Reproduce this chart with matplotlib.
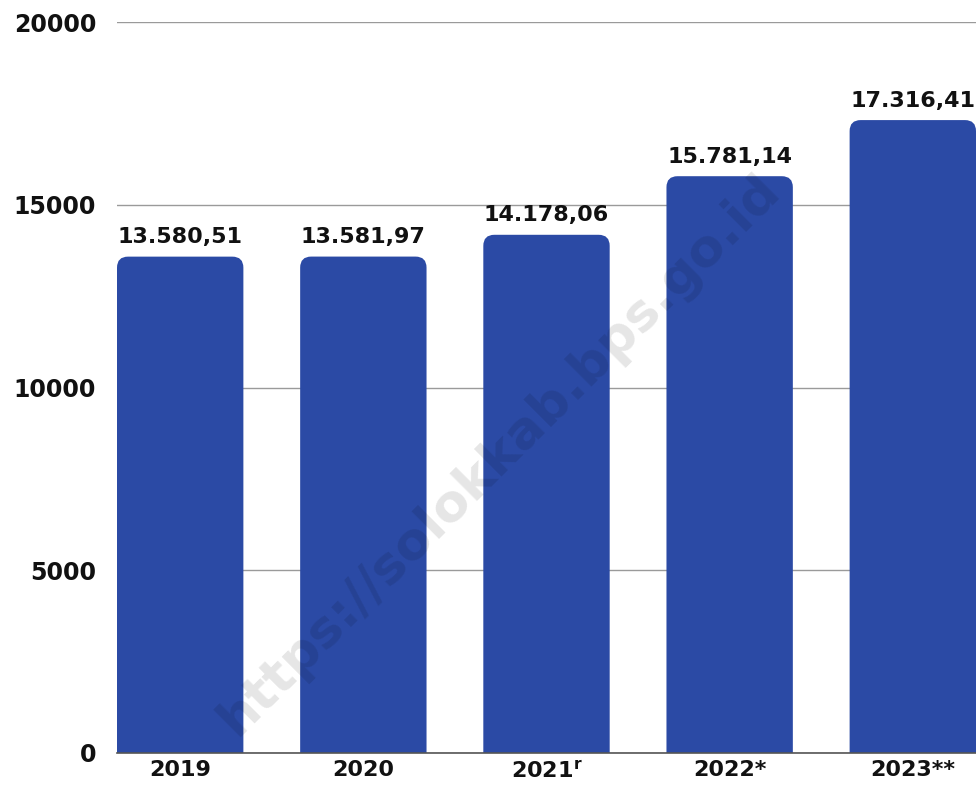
"""Bar chart of yearly values (2019-2023) with rounded bar tops and a watermark."""

import matplotlib
matplotlib.use('Agg')
import matplotlib.pyplot as plt  # pylint: disable=wrong-import-position
from matplotlib.patches import FancyBboxPatch  # pylint: disable=wrong-import-position

YEARS = ["2019", "2020", "2021$^{\\mathbf{r}}$", "2022*", "2023**"]
VALUES = [13580.51, 13581.97, 14178.06, 15781.14, 17316.41]
VALUE_LABELS = ["13.580,51", "13.581,97", "14.178,06", "15.781,14", "17.316,41"]
Y_TICKS = [0, 5000, 10000, 15000, 20000]

BAR_COLOR = '#2B4AA5'
BAR_WIDTH = 0.69


def main():
    plt.rcParams['font.family'] = 'DejaVu Sans'
    plt.rcParams['mathtext.fontset'] = 'dejavusans'

    fig = plt.figure(figsize=(9.76, 7.85), dpi=100)
    ax = fig.add_axes([117 / 976, 32 / 785, 1 - 117 / 976, (753 - 22) / 785])

    ax.set_xlim(-BAR_WIDTH / 2, len(VALUES) - 1 + BAR_WIDTH / 2)
    ax.set_ylim(0, 20000)

    # px -> data scaling, used to keep the corner radius round
    x_per_px = (len(VALUES) - 1 + BAR_WIDTH) / 859
    y_per_px = 20000 / 731
    radius = 11 * x_per_px

    for i, (val, lab) in enumerate(zip(VALUES, VALUE_LABELS)):
        box = FancyBboxPatch((i - BAR_WIDTH / 2, -1000), BAR_WIDTH, val + 1000,
                             boxstyle=f"round,pad=0,rounding_size={radius}",
                             mutation_aspect=y_per_px / x_per_px,
                             facecolor=BAR_COLOR, edgecolor='none', zorder=2)
        ax.add_patch(box)
        ax.text(i, val + 260, lab, ha='center', va='bottom', fontsize=16,
                fontweight='bold', color='#111111', zorder=4)

    ax.set_yticks(Y_TICKS)
    ax.set_yticklabels([str(t) for t in Y_TICKS], fontsize=17, fontweight='bold',
                       color='#111111')
    ax.set_xticks(range(len(YEARS)))
    ax.set_xticklabels(YEARS, fontsize=16, fontweight='bold', color='#111111')
    ax.tick_params(axis='both', length=0)
    ax.tick_params(axis='y', pad=15)
    ax.tick_params(axis='x', pad=5)

    ax.grid(axis='y', color='#9a9a9a', linewidth=1, zorder=0)
    ax.set_axisbelow(True)
    for side in ('top', 'right', 'left'):
        ax.spines[side].set_visible(False)
    ax.spines['bottom'].set_color('#555555')
    ax.spines['bottom'].set_linewidth(1.2)
    ax.spines['bottom'].set_zorder(3)

    # watermark
    fig.text(500 / 976, 1 - 455 / 785, "https://solokkab.bps.go.id", rotation=45,
             ha='center', va='center', fontsize=37.5, fontweight='bold',
             color='black', alpha=0.1, zorder=10)

    fig.savefig("out.png", dpi=100)
    plt.close(fig)


if __name__ == "__main__":
    main()
